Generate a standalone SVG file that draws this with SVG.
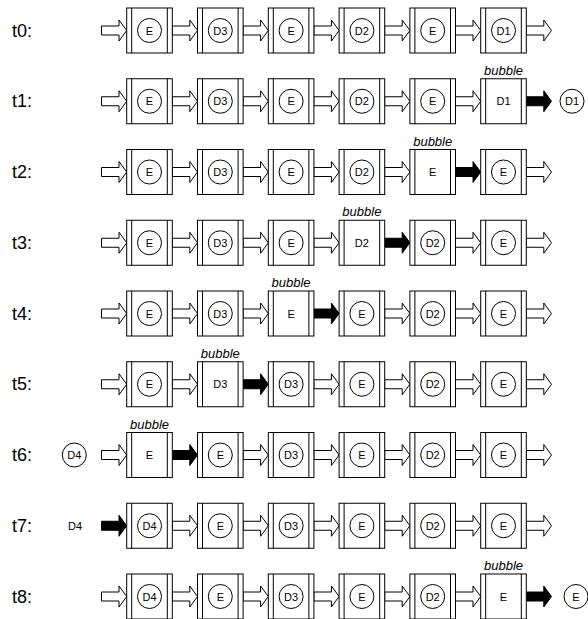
<svg xmlns="http://www.w3.org/2000/svg" xmlns:xlink="http://www.w3.org/1999/xlink" width="588" height="619" viewBox="0 0 588 619">
<style>
.b{fill:#fff;stroke:#000;stroke-width:1}
.ln{fill:none;stroke:#000;stroke-width:1}
.ha{fill:#fff;stroke:#000;stroke-width:1}
.ba{fill:#000;stroke:#000;stroke-width:1}
.n{font-family:"Liberation Sans",Arial,sans-serif;font-size:11px;text-anchor:middle;fill:#000}
.bub{font-family:"Liberation Sans",Arial,sans-serif;font-size:13px;font-style:italic;text-anchor:middle;fill:#000}
.lbl{font-family:"Liberation Sans",Arial,sans-serif;font-size:18px;fill:#000}
</style>
<defs>
<g id="frame"><rect x="0" y="0" width="45.6" height="45" class="b"/><line x1="5" y1="0" x2="5" y2="45" class="ln"/><line x1="40.6" y1="0" x2="40.6" y2="45" class="ln"/></g>
<circle id="ring" cx="22.8" cy="22.5" r="12" class="b"/>
<path id="ha" d="M0,-4.5H17.5V-10.5L25.2,0L17.5,10.5V4.5H0Z" class="ha"/>
<path id="ba" d="M0,-4.5H17.5V-10.5L25.2,0L17.5,10.5V4.5H0Z" class="ba"/>
</defs>

<g id="labels">
<text class="lbl" x="12" y="36.5">t0:</text>
<text class="lbl" x="12" y="107.25">t1:</text>
<text class="lbl" x="12" y="178">t2:</text>
<text class="lbl" x="12" y="248.75">t3:</text>
<text class="lbl" x="12" y="319.5">t4:</text>
<text class="lbl" x="12" y="390.25">t5:</text>
<text class="lbl" x="12" y="461">t6:</text>
<text class="lbl" x="12" y="531.75">t7:</text>
<text class="lbl" x="12" y="602.5">t8:</text>
</g>

<g id="connectors">
<!-- t0 -->
<use xlink:href="#ha" transform="translate(101.5,30.5)"/>
<use xlink:href="#ha" transform="translate(172.3,30.5)"/>
<use xlink:href="#ha" transform="translate(243.1,30.5)"/>
<use xlink:href="#ha" transform="translate(313.9,30.5)"/>
<use xlink:href="#ha" transform="translate(384.7,30.5)"/>
<use xlink:href="#ha" transform="translate(455.5,30.5)"/>
<use xlink:href="#ha" transform="translate(526.3,30.5)"/>
<!-- t1 -->
<use xlink:href="#ha" transform="translate(101.5,101.25)"/>
<use xlink:href="#ha" transform="translate(172.3,101.25)"/>
<use xlink:href="#ha" transform="translate(243.1,101.25)"/>
<use xlink:href="#ha" transform="translate(313.9,101.25)"/>
<use xlink:href="#ha" transform="translate(384.7,101.25)"/>
<use xlink:href="#ha" transform="translate(455.5,101.25)"/>
<use xlink:href="#ba" transform="translate(526.3,101.25)"/>
<!-- t2 -->
<use xlink:href="#ha" transform="translate(101.5,172)"/>
<use xlink:href="#ha" transform="translate(172.3,172)"/>
<use xlink:href="#ha" transform="translate(243.1,172)"/>
<use xlink:href="#ha" transform="translate(313.9,172)"/>
<use xlink:href="#ha" transform="translate(384.7,172)"/>
<use xlink:href="#ba" transform="translate(455.5,172)"/>
<use xlink:href="#ha" transform="translate(526.3,172)"/>
<!-- t3 -->
<use xlink:href="#ha" transform="translate(101.5,242.75)"/>
<use xlink:href="#ha" transform="translate(172.3,242.75)"/>
<use xlink:href="#ha" transform="translate(243.1,242.75)"/>
<use xlink:href="#ha" transform="translate(313.9,242.75)"/>
<use xlink:href="#ba" transform="translate(384.7,242.75)"/>
<use xlink:href="#ha" transform="translate(455.5,242.75)"/>
<use xlink:href="#ha" transform="translate(526.3,242.75)"/>
<!-- t4 -->
<use xlink:href="#ha" transform="translate(101.5,313.5)"/>
<use xlink:href="#ha" transform="translate(172.3,313.5)"/>
<use xlink:href="#ha" transform="translate(243.1,313.5)"/>
<use xlink:href="#ba" transform="translate(313.9,313.5)"/>
<use xlink:href="#ha" transform="translate(384.7,313.5)"/>
<use xlink:href="#ha" transform="translate(455.5,313.5)"/>
<use xlink:href="#ha" transform="translate(526.3,313.5)"/>
<!-- t5 -->
<use xlink:href="#ha" transform="translate(101.5,384.25)"/>
<use xlink:href="#ha" transform="translate(172.3,384.25)"/>
<use xlink:href="#ba" transform="translate(243.1,384.25)"/>
<use xlink:href="#ha" transform="translate(313.9,384.25)"/>
<use xlink:href="#ha" transform="translate(384.7,384.25)"/>
<use xlink:href="#ha" transform="translate(455.5,384.25)"/>
<use xlink:href="#ha" transform="translate(526.3,384.25)"/>
<!-- t6 -->
<use xlink:href="#ha" transform="translate(101.5,455)"/>
<use xlink:href="#ba" transform="translate(172.3,455)"/>
<use xlink:href="#ha" transform="translate(243.1,455)"/>
<use xlink:href="#ha" transform="translate(313.9,455)"/>
<use xlink:href="#ha" transform="translate(384.7,455)"/>
<use xlink:href="#ha" transform="translate(455.5,455)"/>
<use xlink:href="#ha" transform="translate(526.3,455)"/>
<!-- t7 -->
<use xlink:href="#ba" transform="translate(101.5,525.75)"/>
<use xlink:href="#ha" transform="translate(172.3,525.75)"/>
<use xlink:href="#ha" transform="translate(243.1,525.75)"/>
<use xlink:href="#ha" transform="translate(313.9,525.75)"/>
<use xlink:href="#ha" transform="translate(384.7,525.75)"/>
<use xlink:href="#ha" transform="translate(455.5,525.75)"/>
<use xlink:href="#ha" transform="translate(526.3,525.75)"/>
<!-- t8 -->
<use xlink:href="#ha" transform="translate(101.5,596.5)"/>
<use xlink:href="#ha" transform="translate(172.3,596.5)"/>
<use xlink:href="#ha" transform="translate(243.1,596.5)"/>
<use xlink:href="#ha" transform="translate(313.9,596.5)"/>
<use xlink:href="#ha" transform="translate(384.7,596.5)"/>
<use xlink:href="#ha" transform="translate(455.5,596.5)"/>
<use xlink:href="#ba" transform="translate(526.3,596.5)"/>
</g>

<!-- t0 -->
<g id="t0-s0" transform="translate(126.7,8)"><use xlink:href="#frame"/><use xlink:href="#ring"/><text class="n" x="22.8" y="26.5">E</text></g>
<g id="t0-s1" transform="translate(197.5,8)"><use xlink:href="#frame"/><use xlink:href="#ring"/><text class="n" x="22.8" y="26.5">D3</text></g>
<g id="t0-s2" transform="translate(268.3,8)"><use xlink:href="#frame"/><use xlink:href="#ring"/><text class="n" x="22.8" y="26.5">E</text></g>
<g id="t0-s3" transform="translate(339.1,8)"><use xlink:href="#frame"/><use xlink:href="#ring"/><text class="n" x="22.8" y="26.5">D2</text></g>
<g id="t0-s4" transform="translate(409.9,8)"><use xlink:href="#frame"/><use xlink:href="#ring"/><text class="n" x="22.8" y="26.5">E</text></g>
<g id="t0-s5" transform="translate(480.7,8)"><use xlink:href="#frame"/><use xlink:href="#ring"/><text class="n" x="22.8" y="26.5">D1</text></g>

<!-- t1 -->
<g id="t1-s0" transform="translate(126.7,78.75)"><use xlink:href="#frame"/><use xlink:href="#ring"/><text class="n" x="22.8" y="26.5">E</text></g>
<g id="t1-s1" transform="translate(197.5,78.75)"><use xlink:href="#frame"/><use xlink:href="#ring"/><text class="n" x="22.8" y="26.5">D3</text></g>
<g id="t1-s2" transform="translate(268.3,78.75)"><use xlink:href="#frame"/><use xlink:href="#ring"/><text class="n" x="22.8" y="26.5">E</text></g>
<g id="t1-s3" transform="translate(339.1,78.75)"><use xlink:href="#frame"/><use xlink:href="#ring"/><text class="n" x="22.8" y="26.5">D2</text></g>
<g id="t1-s4" transform="translate(409.9,78.75)"><use xlink:href="#frame"/><use xlink:href="#ring"/><text class="n" x="22.8" y="26.5">E</text></g>
<g id="t1-s5" transform="translate(480.7,78.75)"><use xlink:href="#frame"/><text class="n" x="22.8" y="26.5">D1</text><text class="bub" x="22.8" y="-4">bubble</text></g>
<g id="t1-out" transform="translate(549.2,78.75)"><use xlink:href="#ring"/><text class="n" x="22.8" y="26.5">D1</text></g>

<!-- t2 -->
<g id="t2-s0" transform="translate(126.7,149.5)"><use xlink:href="#frame"/><use xlink:href="#ring"/><text class="n" x="22.8" y="26.5">E</text></g>
<g id="t2-s1" transform="translate(197.5,149.5)"><use xlink:href="#frame"/><use xlink:href="#ring"/><text class="n" x="22.8" y="26.5">D3</text></g>
<g id="t2-s2" transform="translate(268.3,149.5)"><use xlink:href="#frame"/><use xlink:href="#ring"/><text class="n" x="22.8" y="26.5">E</text></g>
<g id="t2-s3" transform="translate(339.1,149.5)"><use xlink:href="#frame"/><use xlink:href="#ring"/><text class="n" x="22.8" y="26.5">D2</text></g>
<g id="t2-s4" transform="translate(409.9,149.5)"><use xlink:href="#frame"/><text class="n" x="22.8" y="26.5">E</text><text class="bub" x="22.8" y="-4">bubble</text></g>
<g id="t2-s5" transform="translate(480.7,149.5)"><use xlink:href="#frame"/><use xlink:href="#ring"/><text class="n" x="22.8" y="26.5">E</text></g>

<!-- t3 -->
<g id="t3-s0" transform="translate(126.7,220.25)"><use xlink:href="#frame"/><use xlink:href="#ring"/><text class="n" x="22.8" y="26.5">E</text></g>
<g id="t3-s1" transform="translate(197.5,220.25)"><use xlink:href="#frame"/><use xlink:href="#ring"/><text class="n" x="22.8" y="26.5">D3</text></g>
<g id="t3-s2" transform="translate(268.3,220.25)"><use xlink:href="#frame"/><use xlink:href="#ring"/><text class="n" x="22.8" y="26.5">E</text></g>
<g id="t3-s3" transform="translate(339.1,220.25)"><use xlink:href="#frame"/><text class="n" x="22.8" y="26.5">D2</text><text class="bub" x="22.8" y="-4">bubble</text></g>
<g id="t3-s4" transform="translate(409.9,220.25)"><use xlink:href="#frame"/><use xlink:href="#ring"/><text class="n" x="22.8" y="26.5">D2</text></g>
<g id="t3-s5" transform="translate(480.7,220.25)"><use xlink:href="#frame"/><use xlink:href="#ring"/><text class="n" x="22.8" y="26.5">E</text></g>

<!-- t4 -->
<g id="t4-s0" transform="translate(126.7,291)"><use xlink:href="#frame"/><use xlink:href="#ring"/><text class="n" x="22.8" y="26.5">E</text></g>
<g id="t4-s1" transform="translate(197.5,291)"><use xlink:href="#frame"/><use xlink:href="#ring"/><text class="n" x="22.8" y="26.5">D3</text></g>
<g id="t4-s2" transform="translate(268.3,291)"><use xlink:href="#frame"/><text class="n" x="22.8" y="26.5">E</text><text class="bub" x="22.8" y="-4">bubble</text></g>
<g id="t4-s3" transform="translate(339.1,291)"><use xlink:href="#frame"/><use xlink:href="#ring"/><text class="n" x="22.8" y="26.5">E</text></g>
<g id="t4-s4" transform="translate(409.9,291)"><use xlink:href="#frame"/><use xlink:href="#ring"/><text class="n" x="22.8" y="26.5">D2</text></g>
<g id="t4-s5" transform="translate(480.7,291)"><use xlink:href="#frame"/><use xlink:href="#ring"/><text class="n" x="22.8" y="26.5">E</text></g>

<!-- t5 -->
<g id="t5-s0" transform="translate(126.7,361.75)"><use xlink:href="#frame"/><use xlink:href="#ring"/><text class="n" x="22.8" y="26.5">E</text></g>
<g id="t5-s1" transform="translate(197.5,361.75)"><use xlink:href="#frame"/><text class="n" x="22.8" y="26.5">D3</text><text class="bub" x="22.8" y="-4">bubble</text></g>
<g id="t5-s2" transform="translate(268.3,361.75)"><use xlink:href="#frame"/><use xlink:href="#ring"/><text class="n" x="22.8" y="26.5">D3</text></g>
<g id="t5-s3" transform="translate(339.1,361.75)"><use xlink:href="#frame"/><use xlink:href="#ring"/><text class="n" x="22.8" y="26.5">E</text></g>
<g id="t5-s4" transform="translate(409.9,361.75)"><use xlink:href="#frame"/><use xlink:href="#ring"/><text class="n" x="22.8" y="26.5">D2</text></g>
<g id="t5-s5" transform="translate(480.7,361.75)"><use xlink:href="#frame"/><use xlink:href="#ring"/><text class="n" x="22.8" y="26.5">E</text></g>

<!-- t6 -->
<g id="t6-in" transform="translate(51.5,432.5)"><use xlink:href="#ring"/><text class="n" x="22.8" y="26.5">D4</text></g>
<g id="t6-s0" transform="translate(126.7,432.5)"><use xlink:href="#frame"/><text class="n" x="22.8" y="26.5">E</text><text class="bub" x="22.8" y="-4">bubble</text></g>
<g id="t6-s1" transform="translate(197.5,432.5)"><use xlink:href="#frame"/><use xlink:href="#ring"/><text class="n" x="22.8" y="26.5">E</text></g>
<g id="t6-s2" transform="translate(268.3,432.5)"><use xlink:href="#frame"/><use xlink:href="#ring"/><text class="n" x="22.8" y="26.5">D3</text></g>
<g id="t6-s3" transform="translate(339.1,432.5)"><use xlink:href="#frame"/><use xlink:href="#ring"/><text class="n" x="22.8" y="26.5">E</text></g>
<g id="t6-s4" transform="translate(409.9,432.5)"><use xlink:href="#frame"/><use xlink:href="#ring"/><text class="n" x="22.8" y="26.5">D2</text></g>
<g id="t6-s5" transform="translate(480.7,432.5)"><use xlink:href="#frame"/><use xlink:href="#ring"/><text class="n" x="22.8" y="26.5">E</text></g>

<!-- t7 -->
<g id="t7-in"><text class="n" x="75" y="529.75">D4</text></g>
<g id="t7-s0" transform="translate(126.7,503.25)"><use xlink:href="#frame"/><use xlink:href="#ring"/><text class="n" x="22.8" y="26.5">D4</text></g>
<g id="t7-s1" transform="translate(197.5,503.25)"><use xlink:href="#frame"/><use xlink:href="#ring"/><text class="n" x="22.8" y="26.5">E</text></g>
<g id="t7-s2" transform="translate(268.3,503.25)"><use xlink:href="#frame"/><use xlink:href="#ring"/><text class="n" x="22.8" y="26.5">D3</text></g>
<g id="t7-s3" transform="translate(339.1,503.25)"><use xlink:href="#frame"/><use xlink:href="#ring"/><text class="n" x="22.8" y="26.5">E</text></g>
<g id="t7-s4" transform="translate(409.9,503.25)"><use xlink:href="#frame"/><use xlink:href="#ring"/><text class="n" x="22.8" y="26.5">D2</text></g>
<g id="t7-s5" transform="translate(480.7,503.25)"><use xlink:href="#frame"/><use xlink:href="#ring"/><text class="n" x="22.8" y="26.5">E</text></g>

<!-- t8 -->
<g id="t8-s0" transform="translate(126.7,574)"><use xlink:href="#frame"/><use xlink:href="#ring"/><text class="n" x="22.8" y="26.5">D4</text></g>
<g id="t8-s1" transform="translate(197.5,574)"><use xlink:href="#frame"/><use xlink:href="#ring"/><text class="n" x="22.8" y="26.5">E</text></g>
<g id="t8-s2" transform="translate(268.3,574)"><use xlink:href="#frame"/><use xlink:href="#ring"/><text class="n" x="22.8" y="26.5">D3</text></g>
<g id="t8-s3" transform="translate(339.1,574)"><use xlink:href="#frame"/><use xlink:href="#ring"/><text class="n" x="22.8" y="26.5">E</text></g>
<g id="t8-s4" transform="translate(409.9,574)"><use xlink:href="#frame"/><use xlink:href="#ring"/><text class="n" x="22.8" y="26.5">D2</text></g>
<g id="t8-s5" transform="translate(480.7,574)"><use xlink:href="#frame"/><text class="n" x="22.8" y="26.5">E</text><text class="bub" x="22.8" y="-4">bubble</text></g>
<g id="t8-out" transform="translate(553.2,574)"><use xlink:href="#ring"/><text class="n" x="22.8" y="26.5">E</text></g>
</svg>
